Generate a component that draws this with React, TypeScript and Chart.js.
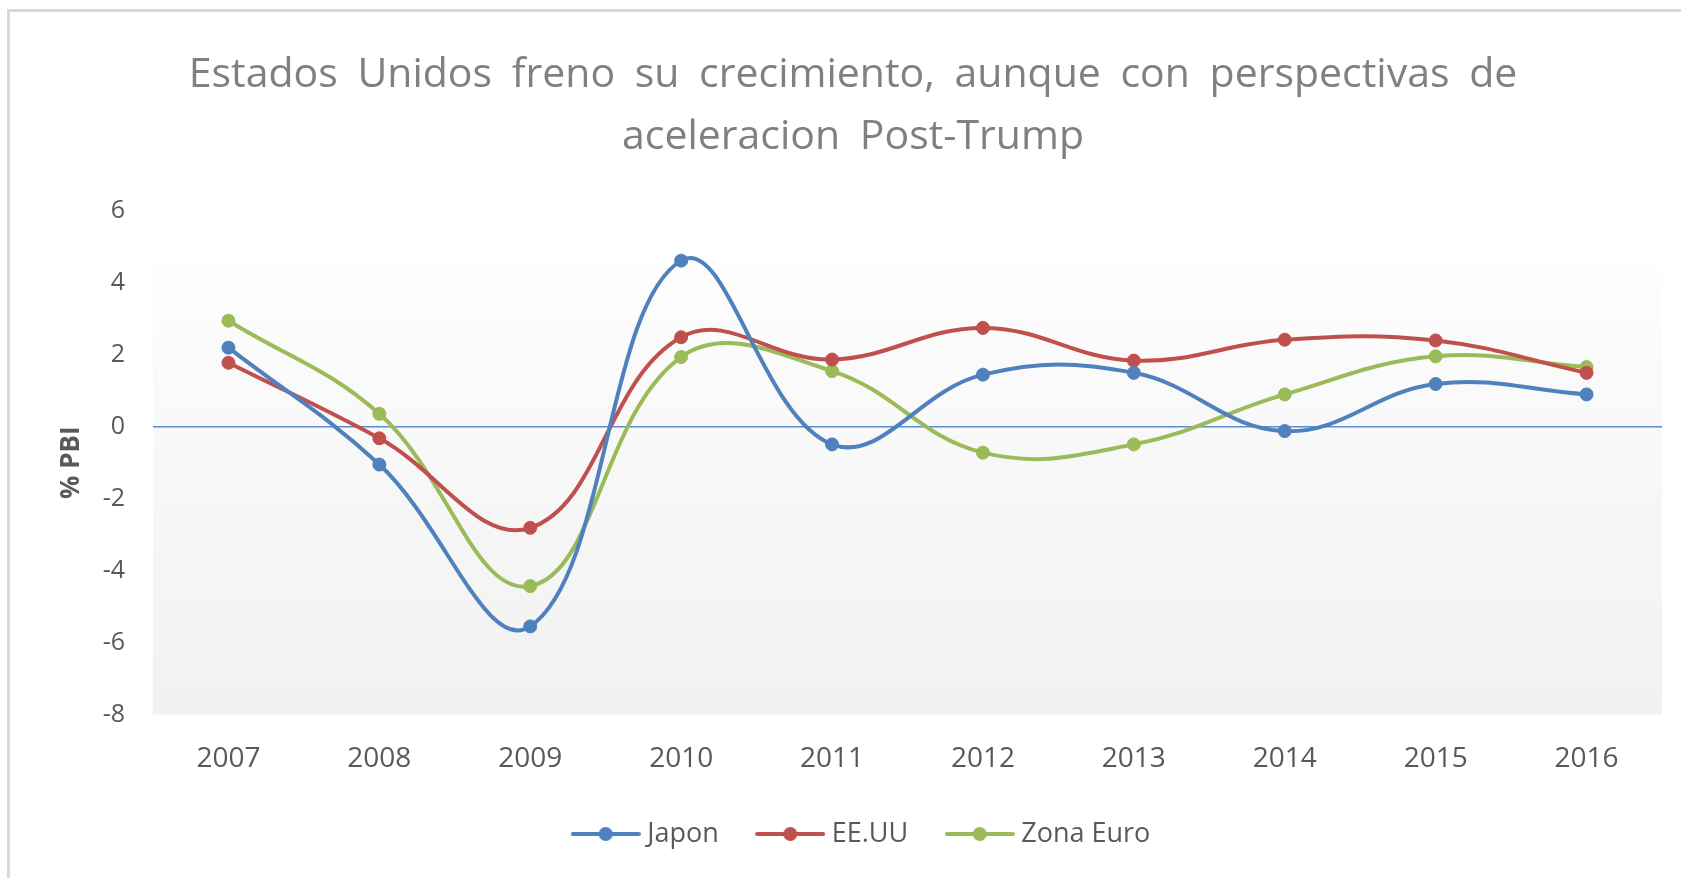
import React, { useEffect, useRef } from "react";
import { Chart, registerables } from "chart.js";

Chart.register(...registerables);

// ---- data ----
const years = ["2007", "2008", "2009", "2010", "2011", "2012", "2013", "2014", "2015", "2016"];
const japon = [2.2, -1.05, -5.55, 4.62, -0.49, 1.45, 1.5, -0.12, 1.19, 0.9];
const eeuu = [1.78, -0.32, -2.81, 2.49, 1.87, 2.75, 1.84, 2.42, 2.4, 1.5];
const zonaEuro = [2.95, 0.36, -4.43, 1.94, 1.55, -0.72, -0.49, 0.9, 1.96, 1.66];
const seriesNames = ["Japon", "EE.UU", "Zona Euro"];
const seriesColors = ["#4F81BD", "#C0504D", "#9BBB59"];
const titleLines = [
  "Estados Unidos freno su crecimiento, aunque con perspectivas de",
  "aceleracion Post-Trump",
];
const yAxisTitle = "% PBI";
const yMin = -8;
const yMax = 6;
const yStep = 2;

const FONT = "'Open Sans', 'Noto Sans', sans-serif";
const TEXT = "#595959";

function legendImage(color: string) {
  const c = document.createElement("canvas");
  c.width = 70;
  c.height = 18;
  const g = c.getContext("2d")!;
  g.strokeStyle = color;
  g.lineWidth = 4;
  g.lineCap = "round";
  g.beginPath();
  g.moveTo(2, 9);
  g.lineTo(68, 9);
  g.stroke();
  g.fillStyle = color;
  g.beginPath();
  g.arc(35, 9, 7, 0, Math.PI * 2);
  g.fill();
  return c;
}

const plotBackground = {
  id: "plotBackground",
  beforeDraw(chart: any) {
    const { ctx, chartArea: a } = chart;
    if (!a) return;
    const g = ctx.createLinearGradient(0, a.top, 0, a.bottom);
    g.addColorStop(0, "#ffffff");
    g.addColorStop(0.112, "#ffffff");
    g.addColorStop(0.114, "#fdfdfd");
    g.addColorStop(1, "#f1f1f1");
    ctx.save();
    ctx.fillStyle = g;
    ctx.fillRect(a.left, a.top, a.right - a.left, a.bottom - a.top);
    ctx.restore();
  },
};

// wider word spacing in the title, shift of the legend row
const textTweaks = {
  id: "textTweaks",
  afterLayout(chart: any) {
    if (chart.legend) {
      chart.legend.left += 11;
      chart.legend.right += 11;
    }
  },
  beforeDraw(chart: any) {
    const tb = chart.titleBlock;
    if (tb && !tb._wsPatched) {
      const orig = tb.draw.bind(tb);
      tb.draw = function () {
        const ctx = chart.ctx;
        ctx.save();
        (ctx as any).wordSpacing = "9px";
        orig();
        (ctx as any).wordSpacing = "0px";
        ctx.restore();
      };
      tb._wsPatched = true;
    }
  },
};

export default function App() {
  const ref = useRef<HTMLCanvasElement | null>(null);

  useEffect(() => {
    if (!ref.current) return;
    const images = seriesColors.map(legendImage);
    const seriesData = [japon, eeuu, zonaEuro];
    const chart = new Chart(ref.current, {
      type: "line",
      data: {
        labels: years,
        datasets: seriesNames.map((name, i) => ({
          label: name,
          data: seriesData[i],
          borderColor: seriesColors[i],
          backgroundColor: seriesColors[i],
          pointBackgroundColor: seriesColors[i],
          pointBorderColor: seriesColors[i],
          pointRadius: 6.5,
          pointBorderWidth: 1,
          borderWidth: 4,
          tension: 0.4,
          fill: false,
        })),
      },
      options: {
        responsive: false,
        animation: false,
        layout: { padding: { left: 44, right: 19, top: 0, bottom: 20.5 } },
        plugins: {
          title: {
            display: true,
            text: titleLines,
            color: "#808080",
            font: { family: FONT, size: 41, weight: "normal", lineHeight: "62px" },
            padding: { top: 44, bottom: 43 },
          },
          legend: {
            position: "bottom",
            labels: {
              usePointStyle: true,
              pointStyleWidth: 56,
              padding: 43.5,
              color: TEXT,
              font: { family: FONT, size: 27 },
              generateLabels: (c: any) =>
                (Chart as any).defaults.plugins.legend.labels
                  .generateLabels(c)
                  .map((it: any, i: number) => ({ ...it, pointStyle: images[i] })),
            },
          },
          tooltip: { enabled: false },
        },
        scales: {
          x: {
            offset: true,
            grid: { display: false, drawTicks: false, offset: true },
            border: { display: false },
            ticks: { color: TEXT, font: { family: FONT, size: 28 }, padding: 28 },
            afterFit: (s: any) => {
              s.height = 62.5;
            },
          },
          y: {
            min: yMin,
            max: yMax,
            ticks: { stepSize: yStep, color: TEXT, font: { family: FONT, size: 25 }, padding: 28 },
            grid: {
              drawTicks: false,
              lineWidth: 1.5,
              color: (c: any) => (c.tick && c.tick.value === 0 ? "#5B8BD0" : "rgba(0,0,0,0)"),
            },
            border: { display: false },
            title: {
              display: true,
              text: yAxisTitle,
              color: TEXT,
              font: { family: FONT, size: 26, weight: "bold" },
              padding: { top: 12, bottom: 0 },
            },
            afterFit: (s: any) => {
              s.width = 109;
            },
          },
        },
      },
      plugins: [plotBackground, textTweaks],
    } as any);
    return () => chart.destroy();
  }, []);

  return (
    <div style={{ position: "fixed", left: 0, top: 0, width: 1681, height: 878, background: "#fff" }}>
      <div
        style={{
          position: "absolute",
          left: 7,
          top: 9,
          width: 1700,
          height: 900,
          borderLeft: "3px solid #d9d9d9",
          borderTop: "3px solid #d9d9d9",
        }}
      />
      <canvas
        ref={ref}
        width={1681}
        height={878}
        style={{ position: "absolute", left: 0, top: 0, width: 1681, height: 878 }}
      />
    </div>
  );
}
